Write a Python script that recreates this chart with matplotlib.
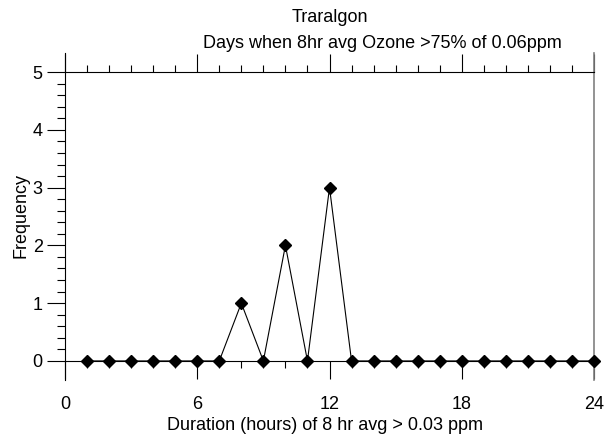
import numpy as np
import matplotlib
matplotlib.use("Agg")
import matplotlib.pyplot as plt
from matplotlib.ticker import MultipleLocator, FixedLocator

plt.rcParams['font.family'] = ['Liberation Sans', 'DejaVu Sans']

# data
hours = list(range(1, 25))
freq = [0, 0, 0, 0, 0, 0, 0, 1, 0, 2, 0, 3, 0, 0, 0, 0, 0, 0, 0, 0, 0, 0, 0, 0]
x_major = [0, 6, 12, 18, 24]
y_major = [0, 1, 2, 3, 4, 5]

fig = plt.figure(figsize=(6.15, 4.41), dpi=100)
W, H = 615, 441
ax = fig.add_axes([65 / W, 1 - 380 / H, (594 - 65) / W, (380 - 53) / H])

ax.plot(hours, freq, color='black', lw=0.8, marker='D', ms=6.5,
        markerfacecolor='black', markeredgecolor='black', clip_on=False, zorder=3)

ax.set_xlim(0, 24)
ax.set_ylim(-0.33, 5.33)

# spines: bottom at y=0, top at y=5
ax.spines['bottom'].set_position(('data', 0))
ax.spines['top'].set_position(('data', 5))
for s in ['left', 'bottom', 'top']:
    ax.spines[s].set_color('black')
    ax.spines[s].set_linewidth(0.8)
ax.spines['right'].set_color('#808080')
ax.spines['right'].set_linewidth(1.2)

ax.xaxis.set_major_locator(FixedLocator(x_major))
ax.xaxis.set_minor_locator(MultipleLocator(1))
ax.yaxis.set_major_locator(FixedLocator(y_major))
ax.yaxis.set_minor_locator(FixedLocator(np.arange(0.2, 5.0, 0.2)))

ax.xaxis.set_ticks_position('both')
ax.tick_params(axis='x', which='both', direction='out', labeltop=False,
               labelbottom=True, labelsize=13, pad=12, width=0.8)
ax.tick_params(axis='x', which='major', length=13)
ax.tick_params(axis='x', which='minor', length=5)
ax.tick_params(axis='y', which='both', direction='out', right=False,
               labelsize=13, pad=3, width=0.8)
ax.tick_params(axis='y', which='major', length=13)
ax.tick_params(axis='y', which='minor', length=6)

fig.text(330 / W, 1 - 18 / H, 'Traralgon', ha='center', va='center', fontsize=13)
fig.text(382 / W, 1 - 43 / H, 'Days when 8hr avg Ozone >75% of 0.06ppm',
         ha='center', va='center', fontsize=13)
fig.text(325 / W, 1 - 425 / H, 'Duration (hours) of 8 hr avg > 0.03 ppm',
         ha='center', va='center', fontsize=13)
fig.text(21 / W, 1 - 216 / H, 'Frequency', ha='center', va='center',
         rotation=90, fontsize=13)

fig.savefig('out.png', dpi=100)
